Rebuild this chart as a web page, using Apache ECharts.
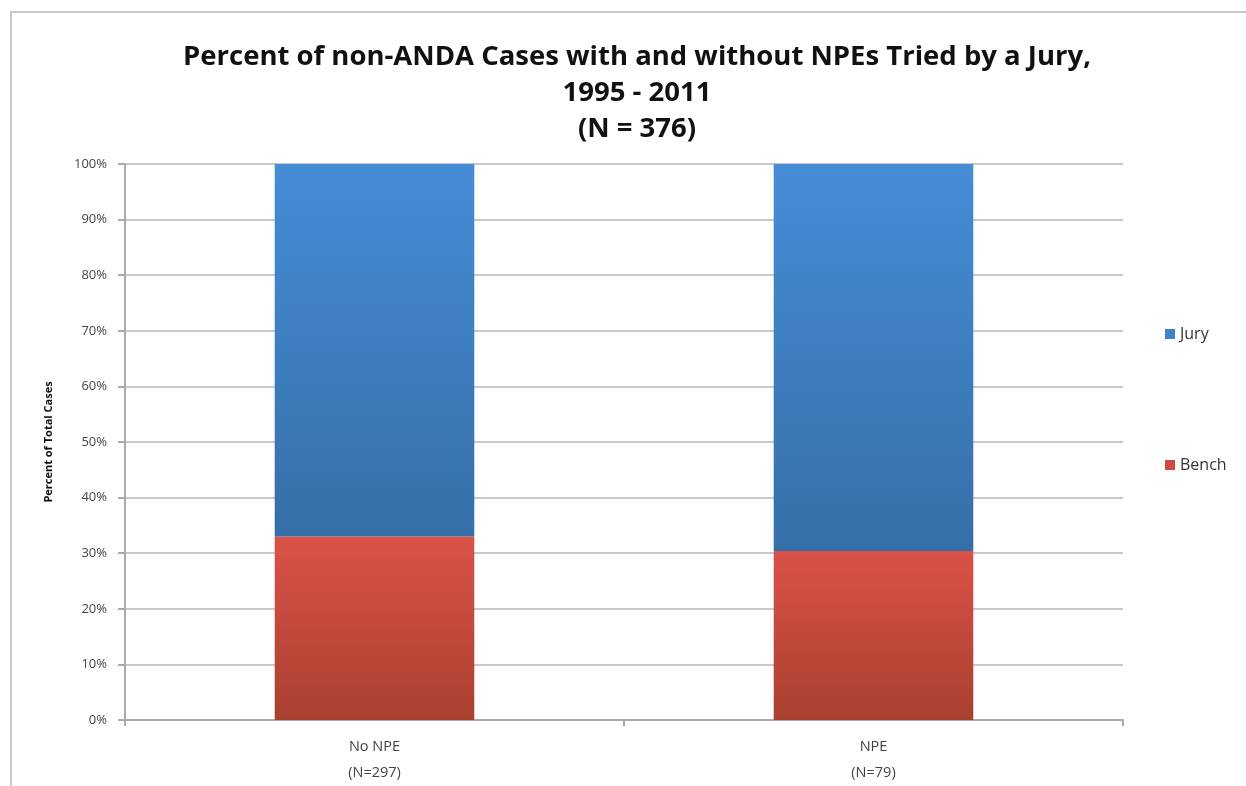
<!DOCTYPE html>
<html>
<head>
<meta charset="utf-8">
<script src="https://cdn.jsdelivr.net/npm/echarts@6/dist/echarts.min.js"></script>
<style>
  html, body { margin: 0; padding: 0; background: #fff; }
  #main { width: 1246px; height: 786px; }
</style>
</head>
<body>
<div id="main"></div>
<script type="text/javascript">
// data
var categories = ['No NPE\n(N=297)', 'NPE\n(N=79)'];
var benchValues = [33.0, 30.4];
var juryValues = [67.0, 69.6];
var yTicks = [0, 10, 20, 30, 40, 50, 60, 70, 80, 90, 100];

var myChart = echarts.init(document.getElementById('main'));

function grad(top, bottom) {
    return new echarts.graphic.LinearGradient(0, 0, 0, 1, [
        {offset: 0, color: top},
        {offset: 1, color: bottom}
    ]);
}

var option = {
    backgroundColor: '#fff',
    textStyle: {fontFamily: '"Open Sans", "DejaVu Sans", sans-serif'},
    title: {
        text: 'Percent of non-ANDA Cases with and without NPEs Tried by a Jury,\n1995 - 2011\n(N = 376)',
        left: 632,
        top: 34,
        textAlign: 'center',
        textStyle: {
            fontFamily: '"Open Sans", sans-serif',
            fontSize: 27.5,
            fontWeight: 'bold',
            color: '#111',
            lineHeight: 36
        }
    },
    graphic: [
        {
            type: 'rect',
            shape: {x: 11, y: 12, width: 1400, height: 900},
            style: {fill: 'none', stroke: '#c8c8c8', lineWidth: 2},
            silent: true
        }
    ],
    legend: {
        orient: 'vertical',
        left: 1160,
        top: 321,
        itemWidth: 10,
        itemHeight: 10,
        itemGap: 115,
        icon: 'rect',
        data: [
            {name: 'Jury', itemStyle: {color: '#3f82c6'}},
            {name: 'Bench', itemStyle: {color: '#cc4a40'}}
        ],
        textStyle: {fontSize: 16, color: '#333'}
    },
    grid: {
        left: 125,
        right: 123,
        top: 164,
        bottom: 66,
        containLabel: false
    },
    xAxis: {
        type: 'category',
        data: categories,
        axisLine: {lineStyle: {color: '#aaa', width: 2}},
        axisTick: {show: true, length: 6, lineStyle: {color: '#aaa', width: 2}},
        axisLabel: {fontSize: 14.5, color: '#444', lineHeight: 26, margin: 14}
    },
    yAxis: {
        type: 'value',
        min: yTicks[0],
        max: yTicks[yTicks.length - 1],
        interval: 10,
        name: 'Percent of Total Cases',
        nameLocation: 'middle',
        nameGap: 71,
        nameTextStyle: {fontSize: 11, color: '#111', fontWeight: 'bold'},
        axisLine: {show: true, lineStyle: {color: '#aaa', width: 2}},
        axisTick: {show: true, length: 7, lineStyle: {color: '#aaa', width: 2}},
        axisLabel: {formatter: '{value}%', fontSize: 13, color: '#444', margin: 18},
        splitLine: {lineStyle: {color: '#c8c8c8', width: 2}}
    },
    series: [
        {
            name: 'Bench',
            type: 'bar',
            stack: 'total',
            barWidth: '40%',
            itemStyle: {color: grad('#da5248', '#a9402f')},
            data: benchValues
        },
        {
            name: 'Jury',
            type: 'bar',
            stack: 'total',
            barWidth: '40%',
            itemStyle: {color: grad('#458dd6', '#366fa8')},
            data: juryValues
        }
    ]
};

myChart.setOption(option);
</script>
</body>
</html>
